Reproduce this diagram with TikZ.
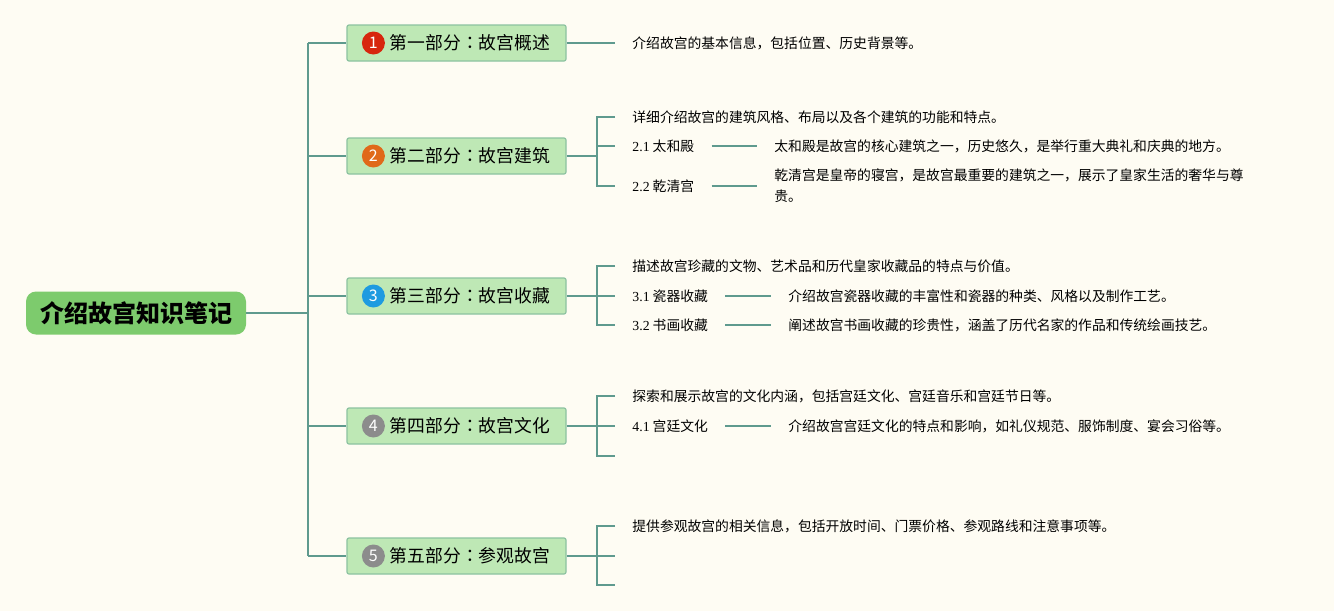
\documentclass[tikz,border=0pt]{standalone}
\usepackage{fontspec}
\setmainfont{Liberation Serif}
\newfontfamily\cjk{Noto Sans CJK SC}
\newfontfamily\cjktc{Noto Sans CJK TC}
\definecolor{bgcream}{HTML}{FEFCF3}
\definecolor{linkteal}{HTML}{5F9A8E}
\definecolor{rootgreen}{HTML}{7DCB6D}
\definecolor{partgreen}{HTML}{BEE8B5}
\definecolor{partedge}{HTML}{8CC2A0}
\definecolor{dotred}{HTML}{D7260E}
\definecolor{dotorange}{HTML}{E0691A}
\definecolor{dotblue}{HTML}{1E9BE0}
\definecolor{dotgray}{HTML}{8C8C8C}
\tikzset{
  rootbox/.style={fill=rootgreen, rounded corners=5pt, minimum width=110pt, minimum height=21.5pt,
    inner sep=0pt, font=\cjk\bfseries\fontsize{12}{14}\selectfont},
  partbox/.style={fill=partgreen, draw=partedge, line width=0.6pt, rounded corners=1pt,
    minimum width=109.5pt, minimum height=18pt, inner sep=0pt, font=\cjk\fontsize{8.9}{10}\selectfont},
  numdot/.style={circle, fill=#1, text=white, inner sep=0pt, minimum size=11.5pt,
    font=\cjk\fontsize{8}{8}\selectfont},
  leaf/.style={anchor=west, inner ysep=0pt, inner xsep=8.5pt, text=black,
    font=\cjk\fontsize{6.9}{10.5}\selectfont, align=left},
  link/.style={draw=linkteal, line width=1pt},
}
\newcommand{\num}[1]{{\rmfamily #1}}
\newcommand{\partcolon}{{\cjktc ：}}
\begin{document}
\begin{tikzpicture}[x=0.5pt, y=-0.5pt]
  % Background and page size
  \fill[bgcream] (0,0) rectangle (1334,611);
  \useasboundingbox (0,0) rectangle (1334,611);

  % Root
  \node[rootbox] (root) at (136,313) {介绍故宫知识笔记};

  % Parts
  \node[partbox] (s1) at (456.5,43)  {\hspace*{13.5pt}第一部分\partcolon 故宫概述};
  \node[partbox] (s2) at (456.5,156) {\hspace*{13.5pt}第二部分\partcolon 故宫建筑};
  \node[partbox] (s3) at (456.5,296) {\hspace*{13.5pt}第三部分\partcolon 故宫收藏};
  \node[partbox] (s4) at (456.5,426) {\hspace*{13.5pt}第四部分\partcolon 故宫文化};
  \node[partbox] (s5) at (456.5,556) {\hspace*{13.5pt}第五部分\partcolon 参观故宫};
  \node[numdot=dotred]    (n1) at ([xshift=13.5pt]s1.west) {1};
  \node[numdot=dotorange] (n2) at ([xshift=13.5pt]s2.west) {2};
  \node[numdot=dotblue]   (n3) at ([xshift=13.5pt]s3.west) {3};
  \node[numdot=dotgray]   (n4) at ([xshift=13.5pt]s4.west) {4};
  \node[numdot=dotgray]   (n5) at ([xshift=13.5pt]s5.west) {5};

  % Trunk
  \coordinate (t1) at (308,43);
  \coordinate (t5) at (308,556);
  \draw[link] (t1) -- (t5);
  \draw[link] (root.east) -- (root.east -| t1);
  \foreach \i in {1,...,5}
    \draw[link] (s\i.west -| t1) -- (s\i.west);

  % Part 1
  \node[leaf] (l1) at (615,43) {介绍故宫的基本信息，包括位置、历史背景等。};
  \draw[link] (s1.east) -- (l1.west);

  % Part 2
  \coordinate (j2) at (597,156);
  \node[leaf] (l2a) at (615,117) {详细介绍故宫的建筑风格、布局以及各个建筑的功能和特点。};
  \node[leaf] (l2b) at (615,146) {\num{2.1} 太和殿};
  \node[leaf] (l2c) at (615,186) {\num{2.2} 乾清宫};
  \node[leaf] (d2b) at (757,146) {太和殿是故宫的核心建筑之一，历史悠久，是举行重大典礼和庆典的地方。};
  \node[leaf] (d2c) at (757,186) {乾清宫是皇帝的寝宫，是故宫最重要的建筑之一，展示了皇家生活的奢华与尊\\贵。};
  \draw[link] (s2.east) -- (j2);
  \draw[link] (l2a.west) -| (j2) |- (l2c.west);
  \draw[link] (j2 |- l2b.west) -- (l2b.west);
  \draw[link] (l2b.east) -- (d2b.west);
  \draw[link] (l2c.east) -- (l2c.east -| d2c.west);

  % Part 3
  \coordinate (j3) at (597,296);
  \node[leaf] (l3a) at (615,266) {描述故宫珍藏的文物、艺术品和历代皇家收藏品的特点与价值。};
  \node[leaf] (l3b) at (615,296) {\num{3.1} 瓷器收藏};
  \node[leaf] (l3c) at (615,325) {\num{3.2} 书画收藏};
  \node[leaf] (d3b) at (771,296) {介绍故宫瓷器收藏的丰富性和瓷器的种类、风格以及制作工艺。};
  \node[leaf] (d3c) at (771,325) {阐述故宫书画收藏的珍贵性，涵盖了历代名家的作品和传统绘画技艺。};
  \draw[link] (s3.east) -- (j3);
  \draw[link] (l3a.west) -| (j3) |- (l3c.west);
  \draw[link] (j3) -- (l3b.west);
  \draw[link] (l3b.east) -- (d3b.west);
  \draw[link] (l3c.east) -- (d3c.west);

  % Part 4
  \coordinate (j4) at (597,426);
  \coordinate (e4) at (615,456);
  \node[leaf] (l4a) at (615,396) {探索和展示故宫的文化内涵，包括宫廷文化、宫廷音乐和宫廷节日等。};
  \node[leaf] (l4b) at (615,426) {\num{4.1} 宫廷文化};
  \node[leaf] (d4b) at (771,426) {介绍故宫宫廷文化的特点和影响，如礼仪规范、服饰制度、宴会习俗等。};
  \draw[link] (s4.east) -- (j4);
  \draw[link] (l4a.west) -| (j4) |- (e4);
  \draw[link] (j4) -- (l4b.west);
  \draw[link] (l4b.east) -- (d4b.west);

  % Part 5
  \coordinate (j5) at (597,556);
  \coordinate (e5b) at (615,556);
  \coordinate (e5c) at (615,585);
  \node[leaf] (l5a) at (615,526) {提供参观故宫的相关信息，包括开放时间、门票价格、参观路线和注意事项等。};
  \draw[link] (s5.east) -- (j5);
  \draw[link] (l5a.west) -| (j5) |- (e5c);
  \draw[link] (j5) -- (e5b);
\end{tikzpicture}
\end{document}
